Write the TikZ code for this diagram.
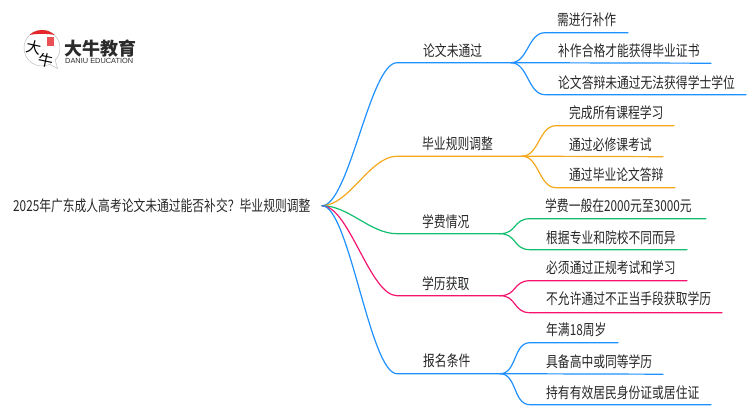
\documentclass[tikz,border=0pt]{standalone}
\usepackage{fontspec}
\newfontfamily\cjk[FakeStretch=0.78]{Noto Sans CJK SC}
\newfontfamily\logofont{Noto Sans CJK SC}
\setsansfont{Liberation Sans}
\definecolor{lineblue}{HTML}{1E90FF}
\definecolor{lineorange}{HTML}{F5A81C}
\definecolor{linegreen}{HTML}{12BF6E}
\definecolor{linepink}{HTML}{F5146E}
\definecolor{logored}{HTML}{E4262A}
\definecolor{logoink}{HTML}{2B2B2B}
\begin{document}
\begin{tikzpicture}[x=1pt,y=-1pt,
every node/.style={inner sep=0pt, anchor=west, yshift=-0.7pt, text=black!85, font=\cjk\fontsize{15.1}{15.1}\selectfont},
branch/.style={line width=1.2pt, line cap=round},
swing/.style={out=0, in=180, distance=27pt},
twig/.style={out=0, in=180, distance=17pt}]
\useasboundingbox (0,0) rectangle (750,410);
\node (Root) at (13,205) {2025年广东成人高考论文未通过能否补交？\hspace{-2.5pt} 毕业规则调整};
\coordinate (R0) at (322,205);
\node (G1) at (423,50) {论文未通过};
\node (G2) at (422,143.5) {毕业规则调整};
\node (G3) at (422,221) {学费情况};
\node (G4) at (422,283) {学历获取};
\node (G5) at (423,360) {报名条件};
\node (G1L1) at (557,19) {需进行补作};
\node (G1L2) at (558,50) {补作合格才能获得毕业证书};
\node (G1L3) at (558,82) {论文答辩未通过无法获得学士学位};
\node (G2L1) at (569,112) {完成所有课程学习};
\node (G2L2) at (569,144) {通过必修课考试};
\node (G2L3) at (569,174) {通过毕业论文答辩};
\node (G3L1) at (545,205) {学费一般在2000元至3000元};
\node (G3L2) at (546,237) {根据专业和院校不同而异};
\node (G4L1) at (546,267) {必须通过正规考试和学习};
\node (G4L2) at (546,298) {不允许通过不正当手段获取学历};
\node (G5L1) at (546,329) {年满18周岁};
\node (G5L2) at (546,361) {具备高中或同等学历};
\node (G5L3) at (546,392) {持有有效居民身份证或居住证};
\coordinate (G1S) at (397,62); \coordinate (G1J) at (511,62);
\coordinate (G2S) at (397,155.5); \coordinate (G2J) at (522,155.5);
\coordinate (G3S) at (397,233); \coordinate (G3J) at (500,233);
\coordinate (G4S) at (397,295); \coordinate (G4J) at (500,295);
\coordinate (G5S) at (397,373); \coordinate (G5J) at (500,373);
\coordinate (G1A1) at (545,32); \coordinate (G1E1) at (628,32);
\coordinate (G1E2) at (711,62.5);
\coordinate (G1A3) at (545,94); \coordinate (G1E3) at (746,94);
\coordinate (G2A1) at (556,125); \coordinate (G2E1) at (674,125);
\coordinate (G2E2) at (663,156);
\coordinate (G2A3) at (556,187); \coordinate (G2E3) at (675,187);
\coordinate (G3A1) at (530,218); \coordinate (G3E1) at (706,218);
\coordinate (G3A2) at (530,249); \coordinate (G3E2) at (687,249);
\coordinate (G4A1) at (530,280); \coordinate (G4E1) at (687,280);
\coordinate (G4A2) at (530,312); \coordinate (G4E2) at (722,312);
\coordinate (G5A1) at (530,342); \coordinate (G5E1) at (618,342);
\coordinate (G5E2) at (663,373.5);
\coordinate (G5A3) at (530,404); \coordinate (G5E3) at (711,404);
\draw[branch, lineblue] (R0) to[swing] (G1S) -- (G1J);
\draw[branch, lineblue] (G1J) to[twig] (G1A1) -- (G1E1);
\draw[branch, lineblue] (G1J) -- (G1E2);
\draw[branch, lineblue] (G1J) to[twig] (G1A3) -- (G1E3);
\draw[branch, lineorange] (R0) to[swing] (G2S) -- (G2J);
\draw[branch, lineorange] (G2J) to[twig] (G2A1) -- (G2E1);
\draw[branch, lineorange] (G2J) -- (G2E2);
\draw[branch, lineorange] (G2J) to[twig] (G2A3) -- (G2E3);
\draw[branch, linegreen] (R0) to[swing] (G3S) -- (G3J);
\draw[branch, linegreen] (G3J) to[twig] (G3A1) -- (G3E1);
\draw[branch, linegreen] (G3J) to[twig] (G3A2) -- (G3E2);
\draw[branch, linepink] (R0) to[swing] (G4S) -- (G4J);
\draw[branch, linepink] (G4J) to[twig] (G4A1) -- (G4E1);
\draw[branch, linepink] (G4J) to[twig] (G4A2) -- (G4E2);
\draw[branch, lineblue] (R0) to[swing] (G5S) -- (G5J);
\draw[branch, lineblue] (G5J) to[twig] (G5A1) -- (G5E1);
\draw[branch, lineblue] (G5J) -- (G5E2);
\draw[branch, lineblue] (G5J) to[twig] (G5A3) -- (G5E3);
\draw[black!25, fill=white, line width=0.5pt] (42,48) circle (18);
\fill[white, draw=black!25, line width=0.5pt] (50,64.5) -- (57.5,68.5) -- (55,59) -- cycle;
\fill[white] (47,61) -- (55,59) -- (53,65) -- cycle;
\fill[logored] (29.5,35) arc (227:313:18.5) .. controls (48,33.5) and (36,33.5) .. (29.5,35) -- cycle;
\fill[logored!80] (47,37) rectangle (54,46);
\node[rotate=-12, text=black, font=\logofont\fontsize{15}{15}\selectfont] (LogoA) at (26,45) {大};
\node[rotate=-12, text=black, font=\logofont\fontsize{15}{15}\selectfont] (LogoB) at (38,58) {牛};
\node[text=logoink, font=\logofont\bfseries\fontsize{18}{18}\selectfont] (LogoC) at (64,47.5) {大牛教育};
\node[text=logoink, font=\sffamily\fontsize{7.4}{8}\selectfont] (LogoD) at (65,60.5) {DANIU EDUCATION};
\end{tikzpicture}
\end{document}
